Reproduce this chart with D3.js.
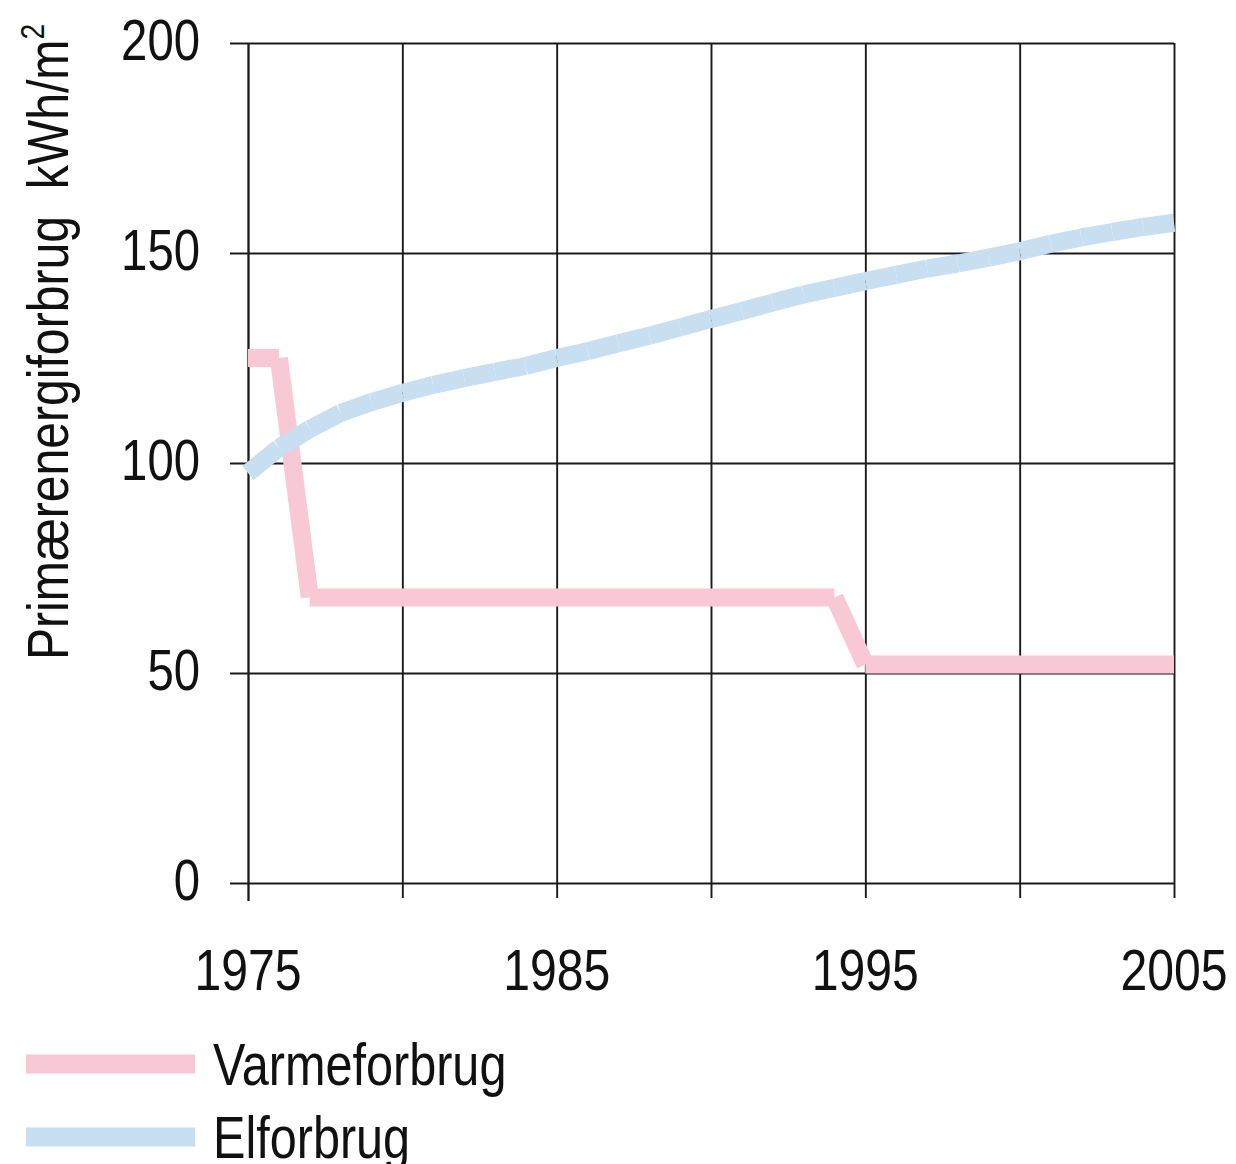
<!DOCTYPE html>
<html>
<head>
<meta charset="utf-8">
<script src="https://cdn.jsdelivr.net/npm/d3@7"></script>
<style>
  html, body { margin: 0; padding: 0; background: #ffffff; }
  svg { display: block; }
  text { font-family: "Liberation Sans", Arial, sans-serif; fill: #111; }
</style>
</head>
<body>
<svg id="chart" width="1236" height="1164"></svg>
<script>
// ---- data ----
const yearTicks = [1975, 1980, 1985, 1990, 1995, 2000, 2005];
const xLabelYears = [1975, 1985, 1995, 2005];
const yTicks = [0, 50, 100, 150, 200];

const varmeYears = [1975, 1976, 1977, 1994, 1995, 2005];
const varmeValues = [125, 125, 68, 68, 52, 52];

const elYears = [1975, 1976, 1977, 1978, 1979, 1980, 1981, 1982, 1983, 1984, 1985,
                 1986, 1987, 1988, 1989, 1990, 1991, 1992, 1993, 1994, 1995,
                 1996, 1997, 1998, 1999, 2000, 2001, 2002, 2003, 2004, 2005];
const elValues = [97.6, 103.6, 108.1, 111.9, 114.5, 116.7, 118.6, 120.2, 121.7, 123.1, 125,
                  126.6, 128.5, 130.3, 132.3, 134.3, 136.2, 138.2, 140.1, 141.7, 143.3,
                  144.8, 146.3, 147.5, 148.9, 150.4, 152.2, 153.7, 155, 156.2, 157.2];

const seriesNames = ["Varmeforbrug", "Elforbrug"];
const seriesColors = ["#f8c8d4", "#c8dff2"];
const yTitle = "Primærenergiforbrug  kWh/m";

// ---- layout ----
const svg = d3.select("#chart");
const x = d3.scaleLinear().domain([1975, 2005]).range([248, 1174]);
const y = d3.scaleLinear().domain([0, 200]).range([883, 43]);
const gridColor = "#1a1a1a";
const squeeze = 0.83;

// horizontal gridlines + left ticks
const yAxis = d3.axisLeft(y).tickValues(yTicks).tickFormat("");
const gy = svg.append("g").attr("transform", "translate(248,0)").call(yAxis);
gy.select(".domain").remove();
gy.selectAll(".tick line")
  .attr("x1", -18).attr("x2", x(2005) - 248)
  .attr("stroke", gridColor).attr("stroke-width", 1.9);

// vertical gridlines + bottom ticks
const xAxis = d3.axisBottom(x).tickValues(yearTicks).tickFormat("");
const gx = svg.append("g").call(xAxis);
gx.select(".domain").remove();
gx.selectAll(".tick line")
  .attr("y1", y(200)).attr("y2", d => d === 1975 ? 901 : 898)
  .attr("stroke", gridColor).attr("stroke-width", d => d === 1975 ? 2.3 : 1.9);

// y tick labels
yTicks.forEach(v => {
  svg.append("text")
    .attr("transform", `translate(200,${y(v) + 17}) scale(${squeeze},1)`)
    .attr("text-anchor", "end")
    .attr("font-size", 57)
    .text(v);
});

// x tick labels
xLabelYears.forEach(v => {
  svg.append("text")
    .attr("transform", `translate(${x(v)},${990}) scale(${squeeze},1)`)
    .attr("text-anchor", "middle")
    .attr("font-size", 58)
    .text(v);
});

// y axis title
const title = svg.append("text")
  .attr("transform", `translate(68,660) rotate(-90) scale(${squeeze},1)`)
  .attr("text-anchor", "start")
  .attr("font-size", 58)
  .style("white-space", "pre");
title.append("tspan").text(yTitle);
title.append("tspan").attr("font-size", 34).attr("dy", -24).text("2");

// series as butt-capped segments
function drawSeries(years, values, color) {
  const pts = years.map((yr, i) => [x(yr), y(values[i])]);
  const line = d3.line();
  for (let i = 0; i < pts.length - 1; i++) {
    svg.append("path")
      .attr("d", line([pts[i], pts[i + 1]]))
      .attr("fill", "none")
      .attr("stroke", color)
      .attr("stroke-width", 18)
      .attr("stroke-linecap", "butt");
  }
}
drawSeries(varmeYears, varmeValues, seriesColors[0]);
drawSeries(elYears, elValues, seriesColors[1]);

// legend
const legendY = [1064, 1137];
seriesNames.forEach((name, i) => {
  svg.append("line")
    .attr("x1", 26).attr("x2", 195)
    .attr("y1", legendY[i]).attr("y2", legendY[i])
    .attr("stroke", seriesColors[i]).attr("stroke-width", 19);
  svg.append("text")
    .attr("transform", `translate(213,${legendY[i] + 21}) scale(0.81,1)`)
    .attr("font-size", 60)
    .text(name);
});
</script>
</body>
</html>
